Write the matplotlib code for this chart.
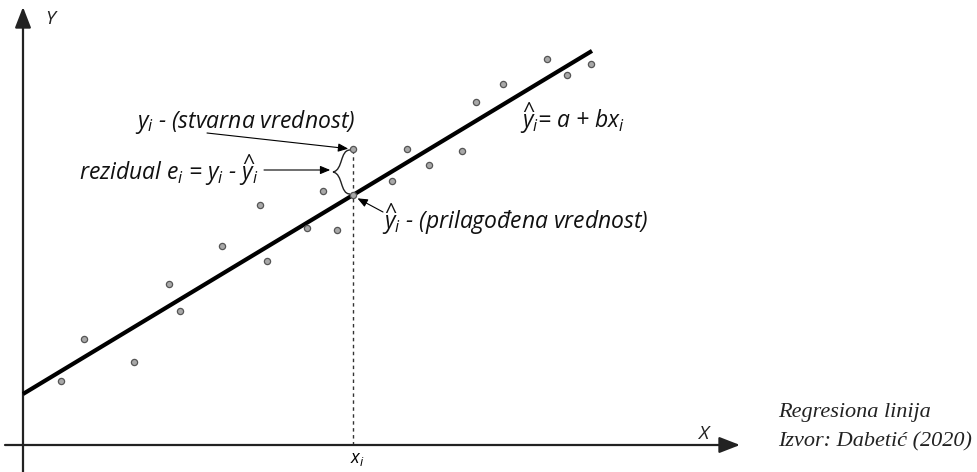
import numpy as np
import matplotlib.pyplot as plt
from matplotlib.path import Path
from matplotlib.patches import PathPatch

plt.rcParams['mathtext.fontset'] = 'custom'
plt.rcParams['mathtext.rm'] = 'Open Sans:italic'
plt.rcParams['mathtext.it'] = 'Open Sans:italic'

# tacke (opazanja)
x_obs = [38, 61, 111, 146, 157, 199, 237, 244, 284, 300, 314, 330, 369, 384, 406, 439, 453, 480, 524, 544, 568]
y_obs = [64, 106, 83, 161, 134, 199, 240, 184, 217, 254, 215, 296, 264, 296, 280, 294, 343, 361, 386, 370, 381]

# regresiona linija y = a + b*x
a = 51
b = 0.603
x_line = [0, 569]
xi = 330   # izabrana tacka
yi = 296   # stvarna vrednost

fig = plt.figure(figsize=(9.77, 4.72), dpi=100)
ax = fig.add_axes([0, 0, 1, 1])
ax.set_xlim(-23, 954)
ax.set_ylim(-27, 445)
ax.axis('off')

# ose
arr = dict(arrowstyle='-|>,head_length=0.9,head_width=0.35', color='#222222', lw=1.6,
           mutation_scale=14, shrinkA=0, shrinkB=0)
ax.annotate('', xy=(0, 438), xytext=(0, -27), arrowprops=arr)
ax.annotate('', xy=(717, 0), xytext=(-18, 0), arrowprops=arr)
ax.text(27, 426, 'Y', fontsize=14, family='Open Sans', style='italic', va='center', ha='center', color='#222222')
ax.text(680, 11, 'X', fontsize=14, family='Open Sans', style='italic', va='center', ha='center', color='#222222')

# linija
yl = [a + b * v for v in x_line]
ax.plot(x_line, yl, color='black', lw=3.0, solid_capstyle='butt', zorder=3)

# tacke
ax.scatter(x_obs, y_obs, s=20, facecolor='#a8a8a8', edgecolor='#555555', linewidth=0.9, zorder=4)
y_fit = a + b * xi
ax.scatter([xi], [y_fit], s=20, facecolor='#a8a8a8', edgecolor='#555555', linewidth=0.9, zorder=5)

# isprekidana linija do x_i
ax.plot([xi, xi], [0, yi], color='#333333', lw=1.0, ls=(0, (2.5, 2.5)), zorder=2)
ax.text(xi + 4, -14, r'$x_i$', fontsize=13, ha='center', va='center')

# viticasta zagrada
bx = xi - 3
top, bot = yi - 1, y_fit + 1
mid = (top + bot) / 2
w = 17
verts = [(bx, top), (bx - w * 0.6, top), (bx - w * 0.4, mid + 2), (bx - w, mid),
         (bx - w * 0.4, mid - 2), (bx - w * 0.6, bot), (bx, bot)]
codes = [Path.MOVETO, Path.CURVE4, Path.CURVE4, Path.CURVE4, Path.CURVE4, Path.CURVE4, Path.CURVE4]
ax.add_patch(PathPatch(Path(verts, codes), fill=False, lw=1.0, color='#222222'))

ap = dict(arrowstyle='-|>,head_length=0.6,head_width=0.25', color='black', lw=0.8,
          mutation_scale=10, shrinkA=0, shrinkB=2)
fs = 16.5
tk = dict(fontsize=fs, family='Open Sans', style='italic', va='center', color='#111111')

ax.text(222, 323, r'$y_i$ - (stvarna vrednost)', ha='center', **tk)
ax.annotate('', xy=(xi - 2, yi), xytext=(184, 312), arrowprops=ap)

ax.text(236, 275, r'rezidual $e_i$ = $y_i$ - $\widehat{y}_i$', ha='right', **tk)
ax.annotate('', xy=(xi - w - 3, 275), xytext=(241, 275), arrowprops=ap)

ax.text(359, 226, r'$\widehat{y}_i$ - (prilagođena vrednost)', ha='left', **tk)
ax.annotate('', xy=(xi + 2, y_fit - 2), xytext=(360, 233), arrowprops=ap)

ax.text(497, 327, r'$\widehat{y}_i$= a + b$x_i$', ha='left', **tk)

# izvor
src = dict(fontsize=16, family='Liberation Serif', style='italic', ha='left', va='center', color='#222222')
ax.text(755, 32, 'Regresiona linija', **src)
ax.text(755, 3, 'Izvor: Dabetić (2020)', **src)

fig.savefig('out.png', dpi=100)
